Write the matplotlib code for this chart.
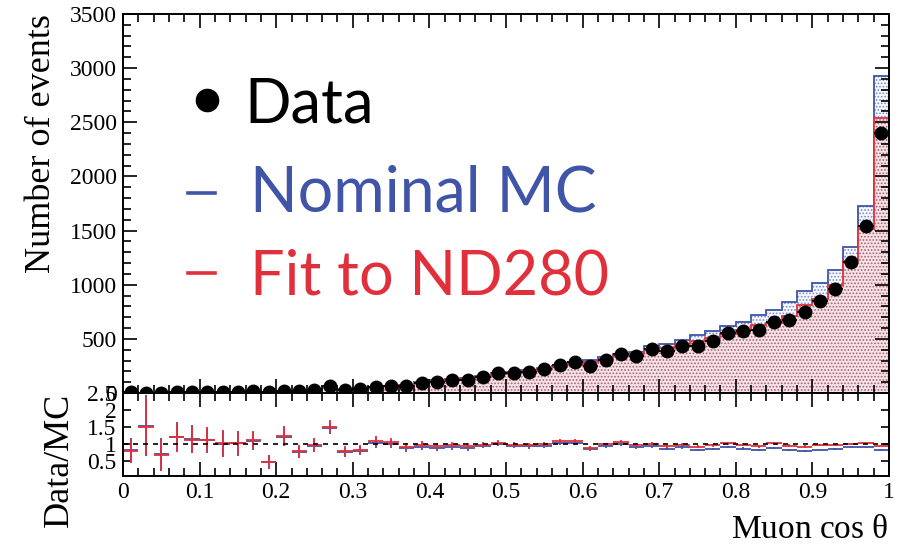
import numpy as np
import matplotlib.pyplot as plt
from matplotlib.ticker import MultipleLocator, FixedLocator

# Muon cos(theta), 50 bins from 0 to 1
bin_edges = np.linspace(0.0, 1.0, 51)

data_counts = np.array([
    5, 3, 2, 8, 8, 9, 7, 8, 17, 5,
    18, 17, 25, 63, 30, 35, 53, 65, 65, 90,
    105, 120, 120, 145, 185, 185, 197, 220, 255, 282,
    253, 305, 362, 345, 404, 385, 438, 438, 484, 558,
    568, 583, 660, 676, 747, 845, 965, 1210, 1540, 2404])

fit_mc = np.array([
    6.4, 2.0, 3.0, 6.7, 7.1, 8.0, 6.9, 7.8, 15.3, 10.6,
    14.6, 21.8, 25.8, 41.7, 38.5, 42.2, 49.5, 62.5, 70.7, 92.8,
    114, 124, 129, 149, 180, 189, 205, 224, 236, 261,
    287, 311, 342, 356, 404, 418, 452, 476, 509, 547,
    586, 627, 647, 712, 812, 871, 995, 1222, 1510, 2540])

nominal_mc = np.array([
    6.2, 1.95, 2.9, 6.6, 7.0, 8.1, 7.0, 7.9, 15.5, 10.8,
    14.9, 22.3, 26.5, 43, 40, 44, 52, 66, 75, 98,
    121, 132, 138, 153, 186, 196, 213, 234, 247, 274,
    302, 329, 363, 380, 433, 450, 491, 537, 568, 615,
    660, 722, 762, 836, 938, 1016, 1139, 1349, 1725, 2929])

centers = 0.5 * (bin_edges[:-1] + bin_edges[1:])
half_width = 0.5 * np.diff(bin_edges)

BLUE = '#4054a8'
RED = '#e0303c'
SERIF = 'Liberation Serif'

plt.rcParams['hatch.linewidth'] = 0.8
plt.rcParams['font.family'] = SERIF

fig = plt.figure(figsize=(8.99, 5.45), dpi=100)
ax = fig.add_axes([0.1368, 0.2789, 0.8521, 0.6954])
rx = fig.add_axes([0.1368, 0.1266, 0.8521, 0.1523], sharex=ax)

# --- main panel: MC predictions and data ---
ax.stairs(nominal_mc, bin_edges, fill=True, facecolor='#f8f9ff',
          edgecolor='#7c8ac4', hatch='.....', linewidth=0)
ax.stairs(nominal_mc, bin_edges, color=BLUE, linewidth=1.3)
ax.stairs(fit_mc, bin_edges, fill=True, facecolor='#f5e3e7',
          edgecolor='#a8606e', hatch='.....', linewidth=0)
ax.stairs(fit_mc, bin_edges, color=RED, linewidth=1.3)
ax.errorbar(centers, data_counts, xerr=half_width, yerr=np.sqrt(data_counts),
            fmt='o', color='black', ms=9, elinewidth=1.3, capsize=0, zorder=5)

ax.set_xlim(0, 1)
ax.set_ylim(0, 3500)
ax.yaxis.set_major_locator(MultipleLocator(500))
ax.yaxis.set_minor_locator(MultipleLocator(100))
ax.xaxis.set_major_locator(MultipleLocator(0.1))
ax.xaxis.set_minor_locator(MultipleLocator(0.02))
ax.tick_params(which='both', direction='in', top=True, right=True,
               labelbottom=False, labelsize=17, pad=4.5, width=1.2)
ax.tick_params(which='major', length=10)
ax.tick_params(which='minor', length=5.5)
ax.set_ylabel('Number of events', fontsize=26, loc='top', labelpad=8)

# legend entries as large coloured text
ax.plot([0.110], [0.773], 'o', color='black', ms=16, transform=ax.transAxes)
ax.plot([0.085, 0.120], [0.528, 0.528], color=BLUE, lw=2.6, transform=ax.transAxes)
ax.plot([0.085, 0.120], [0.317, 0.317], color=RED, lw=2.6, transform=ax.transAxes)
ax.text(0.159, 0.715, 'Data', transform=ax.transAxes, fontsize=44,
        family='Lato', color='black', va='baseline')
ax.text(0.166, 0.478, 'Nominal MC', transform=ax.transAxes, fontsize=45,
        family='Lato', color=BLUE, va='baseline')
ax.text(0.166, 0.259, 'Fit to ND280', transform=ax.transAxes, fontsize=44,
        family='Lato', color=RED, va='baseline')

# --- ratio panel ---
ratio_nom = data_counts / nominal_mc
ratio_fit = data_counts / fit_mc
rx.errorbar(centers, ratio_nom, xerr=half_width, yerr=np.sqrt(data_counts) / nominal_mc,
            fmt='none', ecolor=BLUE, elinewidth=1.3)
rx.errorbar(centers, ratio_fit, xerr=half_width, yerr=np.sqrt(data_counts) / fit_mc,
            fmt='none', ecolor=RED, elinewidth=1.3)
rx.axhline(1.0, color='black', linestyle=(0, (3, 3)), linewidth=1.2)

rx.set_ylim(0.05, 2.5)
rx.yaxis.set_major_locator(FixedLocator([0.5, 1.0, 1.5, 2.0, 2.5]))
rx.set_yticklabels(['0.5', '1', '1.5', '2', '2.5'])
rx.tick_params(which='both', direction='in', top=True, right=True,
               labelsize=17, pad=4.5, width=1.2)
rx.tick_params(axis='x', which='major', length=10)
rx.tick_params(axis='x', which='minor', length=5.5)
rx.tick_params(axis='y', which='major', length=6)
rx.set_xticks(np.round(np.arange(0, 1.01, 0.1), 1))
rx.set_xticklabels(['0', '0.1', '0.2', '0.3', '0.4', '0.5', '0.6', '0.7', '0.8', '0.9', '1'])
rx.set_ylabel('Data/MC', fontsize=26, loc='top', labelpad=8)
rx.set_xlabel(r'Muon cos $\mathregular{\theta}$', fontsize=24, loc='right', labelpad=8)

for a in (ax, rx):
    for s in a.spines.values():
        s.set_linewidth(1.4)

fig.align_ylabels([ax, rx])
fig.savefig('out.png', dpi=100)
